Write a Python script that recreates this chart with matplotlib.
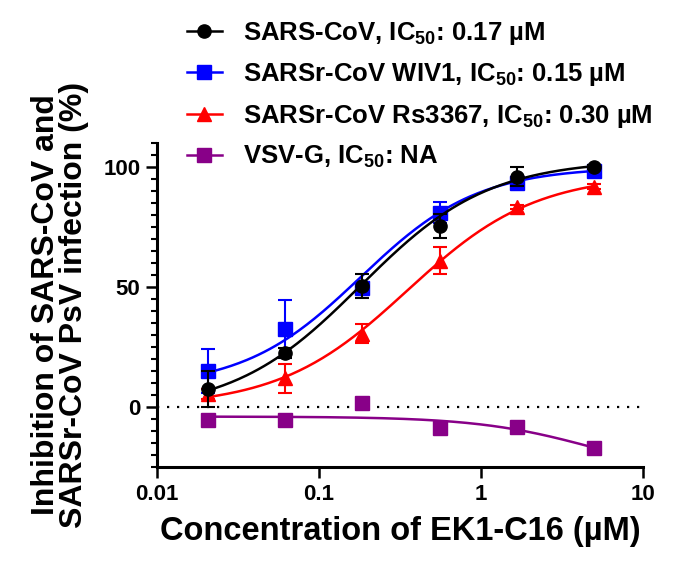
#!/usr/bin/python3

"""
Dose-response of EK1-C16 against SARS-CoV / SARSr-CoV pseudoviruses.
Saves the figure as out.png
"""

import numpy as np
import matplotlib
matplotlib.use("Agg")
import matplotlib.pyplot as plt
from matplotlib.lines import Line2D
from matplotlib.ticker import MultipleLocator, FixedLocator, NullLocator

# EK1-C16 concentrations (uM), 3-fold dilutions
concentrations = [0.0206, 0.0617, 0.185, 0.556, 1.667, 5.0]

# mean inhibition (%) and error per virus
sarsMean = [7.5, 22.6, 50.6, 75.3, 96.0, 100.0]
sarsErr = [7.5, 2.0, 5.0, 5.0, 4.0, 1.0]
wiv1Mean = [15.0, 32.6, 49.4, 81.0, 93.3, 98.3]
wiv1Err = [9.0, 12.0, 2.0, 4.5, 1.0, 1.0]
rs3367Mean = [5.4, 12.0, 30.5, 61.0, 83.3, 91.7]
rs3367Err = [2.0, 6.0, 4.0, 5.5, 1.0, 1.0]
vsvMean = [-5.4, -5.6, 1.7, -8.8, -8.4, -17.2]

# fitted curves: bottom, top, IC50, hill slope
sarsFit = (-2.0, 103.0, 0.18, 1.1)
wiv1Fit = (8.0, 100.0, 0.18, 1.2)
rs3367Fit = (0.0, 97.0, 0.35, 1.1)
vsvFit = (-4.0, -30.0, 5.0, 1.2)

labels = [
    r"SARS-CoV, IC$_{50}$: 0.17 µM",
    r"SARSr-CoV WIV1, IC$_{50}$: 0.15 µM",
    r"SARSr-CoV Rs3367, IC$_{50}$: 0.30 µM",
    r"VSV-G, IC$_{50}$: NA",
]


def logistic(x, fit):
    bottom, top, ic50, hill = fit
    return bottom + (top - bottom) / (1 + (ic50 / x) ** hill)


def main():
    plt.rcParams["font.family"] = ["Liberation Sans", "DejaVu Sans"]
    plt.rcParams["font.weight"] = "bold"
    plt.rcParams["axes.labelweight"] = "bold"
    plt.rcParams["mathtext.fontset"] = "custom"
    plt.rcParams["mathtext.rm"] = "Liberation Sans:bold"
    plt.rcParams["mathtext.it"] = "Liberation Sans:bold"
    plt.rcParams["mathtext.bf"] = "Liberation Sans:bold"

    fig = plt.figure(figsize=(6.77, 5.65), dpi=100)
    ax = fig.add_axes([0.232, 0.1735, 0.718, 0.5735])

    series = [
        (vsvMean, None, vsvFit, "#880088", "s", 10.5),
        (rs3367Mean, rs3367Err, rs3367Fit, "#ff0000", "^", 9.5),
        (wiv1Mean, wiv1Err, wiv1Fit, "#0000ff", "s", 9.5),
        (sarsMean, sarsErr, sarsFit, "#000000", "o", 9.5),
    ]

    xs = np.logspace(np.log10(concentrations[0]), np.log10(concentrations[-1]), 200)
    ax.axhline(0, color="black", linestyle=(0, (1, 3.5)), linewidth=1.6, zorder=1)

    handles = []
    for z, (mean, err, fit, color, marker, size) in enumerate(series):
        ax.plot(xs, logistic(xs, fit), color=color, linewidth=1.8, zorder=2 + z * 2)
        if err is not None:
            ax.errorbar(concentrations, mean, yerr=err, fmt="none", ecolor=color,
                        elinewidth=1.5, capsize=5, capthick=1.5, zorder=2 + z * 2)
        ax.plot(concentrations, mean, linestyle="none", marker=marker, markersize=size,
                color=color, zorder=3 + z * 2)
        handles.append(Line2D([], [], color=color, linewidth=1.8, marker=marker,
                              markersize=size))

    ax.set_xscale("log")
    ax.set_xlim(0.01, 10)
    ax.set_ylim(-25, 110)
    ax.xaxis.set_major_locator(FixedLocator([0.01, 0.1, 1, 10]))
    ax.xaxis.set_minor_locator(NullLocator())
    ax.set_xticklabels(["0.01", "0.1", "1", "10"])
    ax.yaxis.set_major_locator(FixedLocator([0, 50, 100]))
    ax.yaxis.set_minor_locator(MultipleLocator(5))

    for side in ["top", "right"]:
        ax.spines[side].set_visible(False)
    for side in ["left", "bottom"]:
        ax.spines[side].set_linewidth(2.2)
    ax.tick_params(which="major", length=8, width=1.8, labelsize=16, pad=4)
    ax.tick_params(which="minor", length=4.5, width=1.5)

    ax.set_xlabel("Concentration of EK1-C16 (µM)", fontsize=23.5, labelpad=8)
    ax.set_ylabel("Inhibition of SARS-CoV and\nSARSr-CoV PsV infection (%)",
                  fontsize=23, labelpad=10, linespacing=0.95)

    # legend order follows the reference (top to bottom)
    legendHandles = handles[::-1]
    fig.legend(legendHandles, labels, loc="upper left", bbox_to_anchor=(0.276, 0.964),
               frameon=False, fontsize=18.5, handlelength=1.36, handletextpad=0.82,
               labelspacing=0.55, borderaxespad=0, borderpad=0)

    fig.savefig("out.png", dpi=100)


if __name__ == '__main__':
    main()
